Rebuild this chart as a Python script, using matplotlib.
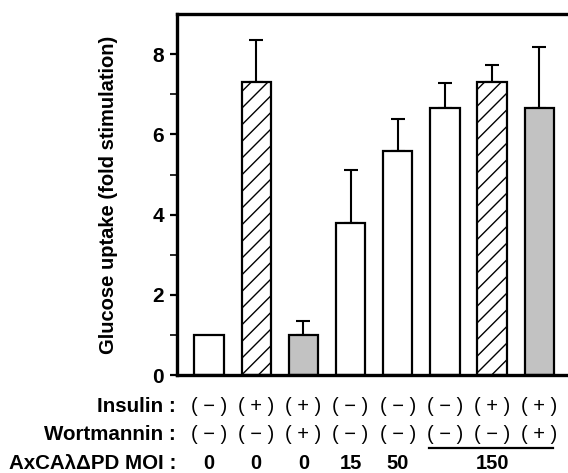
import matplotlib
matplotlib.use("Agg")
import matplotlib.pyplot as plt
import numpy as np

plt.rcParams['font.family'] = ['Liberation Sans', 'DejaVu Sans']
plt.rcParams['hatch.linewidth'] = 1.0

values = [1.0, 7.3, 1.0, 3.79, 5.58, 6.66, 7.3, 6.66]
errors = [0.0, 1.06, 0.35, 1.33, 0.81, 0.63, 0.44, 1.53]
styles = ['open', 'hatch', 'gray', 'open', 'open', 'open', 'hatch', 'gray']
insulin = ['\u2212', '+', '+', '\u2212', '\u2212', '\u2212', '+', '+']
wortmannin = ['\u2212', '\u2212', '+', '\u2212', '\u2212', '\u2212', '\u2212', '+']
moi = ['0', '0', '0', '15', '50', '', '', '']
moi_group_label = '150'
yticks_major = [0, 2, 4, 6, 8]
yticks_minor = [1, 3, 5, 7]

fig = plt.figure(figsize=(5.68, 4.73), dpi=100)
ax = fig.add_axes([0.311, 0.207, 0.689, 0.763])

x = np.arange(len(values))
for xi, v, e, s in zip(x, values, errors, styles):
    if s == 'hatch':
        fc, h = 'white', '//'
    elif s == 'gray':
        fc, h = '#c2c2c2', None
    else:
        fc, h = 'white', None
    ax.bar(xi, v, width=0.62, facecolor=fc, edgecolor='black', linewidth=1.6,
           hatch=h, zorder=2)
    if e > 0:
        ax.errorbar(xi, v, yerr=[[0], [e]], fmt='none', ecolor='black',
                    elinewidth=1.5, capsize=4.7, capthick=1.5, zorder=1)

ax.set_xlim(-0.685, 7.608)
ax.set_ylim(0, 9)
ax.set_yticks(yticks_major)
ax.set_yticks(yticks_minor, minor=True)
ax.set_yticklabels([str(t) for t in yticks_major], fontsize=15, fontweight='bold')
ax.tick_params(axis='y', which='major', direction='out', length=5, width=1.6, pad=4)
ax.tick_params(axis='y', which='minor', direction='out', length=5, width=1.2)
ax.set_xticks([])
for sp in ['left', 'top', 'bottom']:
    ax.spines[sp].set_linewidth(2.4)
ax.spines['right'].set_visible(False)
ax.set_ylabel('Glucose uptake (fold stimulation)', fontsize=14.5, fontweight='bold')
ax.yaxis.set_label_coords(-0.150, 0.5)

# condition table below the axis
trans = matplotlib.transforms.blended_transform_factory(ax.transData, fig.transFigure)
row_y = [1 - 406 / 473, 1 - 434 / 473, 1 - 463 / 473]
row_labels = ['Insulin :', 'Wortmannin :', 'AxCA\u03bb\u0394PD MOI :']
for ry, lab in zip(row_y, row_labels):
    fig.text(176 / 568, ry, lab, ha='right', va='center', fontsize=14.8,
             fontweight='bold')
for xi, a, b, m in zip(x, insulin, wortmannin, moi):
    ax.text(xi, row_y[0], '( %s )' % a, transform=trans, ha='center', va='center',
            fontsize=14.5)
    ax.text(xi, row_y[1], '( %s )' % b, transform=trans, ha='center', va='center',
            fontsize=14.5)
    if m:
        ax.text(xi, row_y[2], m, transform=trans, ha='center', va='center',
                fontsize=14.5, fontweight='bold')
ax.text(6, row_y[2], moi_group_label, transform=trans, ha='center', va='center',
        fontsize=14.5, fontweight='bold')
ax.plot([4.67, 7.3], [1 - 448 / 473] * 2, transform=trans, color='black',
        linewidth=1.6, clip_on=False)

fig.savefig('out.png', dpi=100)
